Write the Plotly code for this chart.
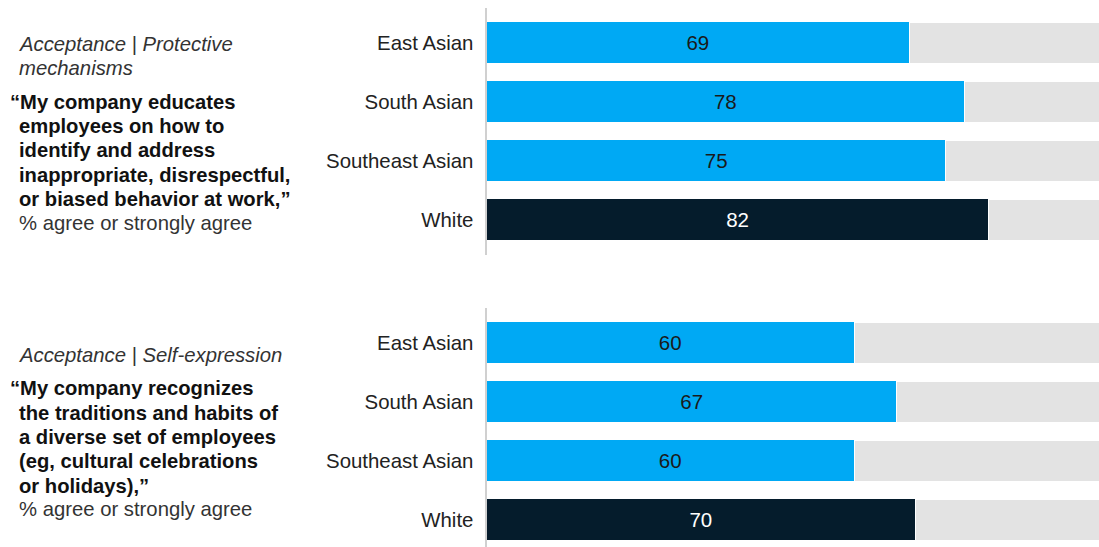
import plotly.graph_objects as go

# Survey groups and shares (% agree or strongly agree)
groups = ["East Asian", "South Asian", "Southeast Asian", "White"]
protective_values = [69, 78, 75, 82]
expression_values = [60, 67, 60, 70]

# Left-hand captions for each panel
protective_kicker = ["Acceptance | Protective", "mechanisms"]
protective_quote = [
    "“My company educates",
    "employees on how to",
    "identify and address",
    "inappropriate, disrespectful,",
    "or biased behavior at work,”",
]
expression_kicker = ["Acceptance | Self-expression"]
expression_quote = [
    "“My company recognizes",
    "the traditions and habits of",
    "a diverse set of employees",
    "(eg, cultural celebrations",
    "or holidays),”",
]
unit_note = "% agree or strongly agree"

W, H = 1099, 547
CYAN = "#00A9F4"
NAVY = "#051C2C"
TRACK = "#E3E3E3"
FONT = "Liberation Sans"

fig = go.Figure()


def add_panel(values, yaxis):
    xaxis = "x" if yaxis == "y" else "x2"
    colors = [NAVY if g == "White" else CYAN for g in groups]
    text_colors = ["#FFFFFF" if g == "White" else "#1A1A1A" for g in groups]
    fig.add_trace(go.Bar(
        x=values, y=groups, orientation="h", width=0.695,
        marker=dict(color=colors, line=dict(width=0)),
        text=[str(v) for v in values], textposition="inside",
        insidetextanchor="middle",
        textfont=dict(family=FONT, size=20.5, color=text_colors),
        xaxis=xaxis, yaxis=yaxis,
        hoverinfo="skip", showlegend=False,
    ))
    fig.add_trace(go.Bar(
        x=[100 - v for v in values], y=groups, orientation="h", width=0.695,
        marker=dict(color=TRACK, line=dict(color="#FFFFFF", width=1)),
        xaxis=xaxis, yaxis=yaxis,
        hoverinfo="skip", showlegend=False,
    ))


add_panel(protective_values, "y")
add_panel(expression_values, "y2")

x0 = 486.5 / W
axis_common = dict(
    type="category", categoryorder="array", categoryarray=groups,
    showgrid=False, zeroline=False, showline=True, linecolor="#D0D0D0",
    linewidth=2, ticks="", ticklabelstandoff=7,
    tickfont=dict(family=FONT, size=20.4, color="#222222"),
)
xaxis_common = dict(range=[0, 100], showgrid=False, zeroline=False,
                    showline=False, showticklabels=False, domain=[x0, 1])

fig.update_layout(
    width=W, height=H, margin=dict(l=0, r=0, t=0, b=0),
    paper_bgcolor="#FFFFFF", plot_bgcolor="#FFFFFF",
    barmode="stack",
    xaxis=dict(anchor="y", **xaxis_common),
    xaxis2=dict(anchor="y2", **xaxis_common),
    yaxis=dict(anchor="x", domain=[1 - 255 / H, 1 - 8 / H],
               range=[3.60, -0.585], **axis_common),
    yaxis2=dict(anchor="x2", domain=[0, 1 - 308 / H],
                range=[3.466, -0.585], **axis_common),
)


def label(text, x_px, y_px, size, color, style="normal", bold=False):
    txt = f"<b>{text}</b>" if bold else text
    fig.add_annotation(
        xref="paper", yref="paper", x=x_px / W, y=1 - y_px / H,
        xanchor="left", yanchor="middle", showarrow=False, text=txt,
        font=dict(family=FONT, size=size, color=color, style=style),
    )


def caption(kicker, quote, top_px):
    y = top_px
    for line in kicker:
        label(line, 17, y, 20.3, "#333333", style="italic")
        y += 24.3
    y += 9
    for i, line in enumerate(quote):
        x = 8 if i == 0 else 17
        label(line, x, y, 20.2, "#111111", bold=True)
        y += 24.3
    label(unit_note, 17, y - 0.5, 20.3, "#333333")


caption(protective_kicker, protective_quote, 44)
caption(expression_kicker, expression_quote, 355)

fig.write_html("out.html")
